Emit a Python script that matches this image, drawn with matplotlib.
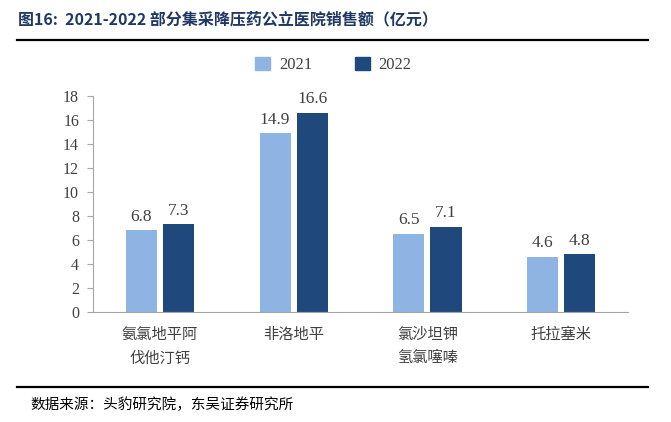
import numpy as np
import matplotlib.pyplot as plt
import matplotlib.patches as mpatches
from matplotlib.lines import Line2D

# ---------------------------------------------------------------------------
# DATA
# ---------------------------------------------------------------------------
categories = ["氨氯地平阿\n伐他汀钙", "非洛地平", "氯沙坦钾\n氢氯噻嗪", "托拉塞米"]
sales_2021 = [6.8, 14.9, 6.5, 4.6]
sales_2022 = [7.3, 16.6, 7.1, 4.8]
series_names = ["2021", "2022"]
y_ticks = [0, 2, 4, 6, 8, 10, 12, 14, 16, 18]

title = "图16:  2021-2022 部分集采降压药公立医院销售额（亿元）"
source = "数据来源：头豹研究院，东吴证券研究所"

LIGHT = "#8EB4E3"
DARK = "#1F497D"
GRAY = "#A6A6A6"
TXT = "#404040"

CJK = ["Noto Sans CJK SC", "DejaVu Sans"]
SERIF = ["Liberation Serif", "Noto Sans CJK SC"]

# ---------------------------------------------------------------------------
# FIGURE
# ---------------------------------------------------------------------------
fig = plt.figure(figsize=(6.71, 4.22), dpi=100)
ax = fig.add_axes([0.1386, 0.2607, 0.7974, 0.5118])

x = np.arange(len(categories))
w = 0.232
off = 0.139
b1 = ax.bar(x - off, sales_2021, w, color=LIGHT)
b2 = ax.bar(x + off, sales_2022, w, color=DARK)

for bars, vals in ((b1, sales_2021), (b2, sales_2022)):
    for rect, v in zip(bars, vals):
        ax.annotate(f"{v:.1f}", (rect.get_x() + rect.get_width() / 2, v),
                    xytext=(0, 4), textcoords="offset points",
                    ha="center", va="bottom", fontsize=12.5,
                    family=SERIF, color=TXT)

ax.set_xlim(-0.5, len(categories) - 0.5)
ax.set_ylim(0, 18)
ax.set_yticks(y_ticks)
ax.set_yticklabels([str(t) for t in y_ticks], family=SERIF, fontsize=11.5, color=TXT)
ax.set_xticks(x)
ax.set_xticklabels(categories, family=CJK, fontsize=11, color=TXT, linespacing=1.5)

for s in ("top", "right"):
    ax.spines[s].set_visible(False)
ax.spines["left"].set_color(GRAY)
ax.spines["bottom"].set_color(GRAY)
ax.tick_params(axis="y", direction="out", length=4, color=GRAY, pad=6)
ax.tick_params(axis="x", length=0, pad=10)

# legend
handles = [mpatches.Patch(color=LIGHT, label=series_names[0]),
           mpatches.Patch(color=DARK, label=series_names[1])]
fig.legend(handles=handles, loc="center", bbox_to_anchor=(0.497, 0.845),
           ncol=2, frameon=False, prop={"family": SERIF, "size": 12},
           handlelength=0.9, handleheight=0.8, columnspacing=2.6,
           handletextpad=0.5, labelcolor=TXT)

# title, rules and source
fig.text(0.027, 0.955, title, family=CJK, fontsize=11.5, fontweight="bold",
         color="#1F3864", va="center", ha="left")
fig.add_artist(Line2D([0.025, 0.965], [0.905, 0.905], color="black", lw=1.6))
fig.add_artist(Line2D([0.025, 0.965], [0.083, 0.083], color="black", lw=1.6))
fig.text(0.045, 0.04, source, family=CJK, fontsize=10.5, color="black",
         va="center", ha="left")

fig.savefig("out.png", dpi=100, facecolor="white")
